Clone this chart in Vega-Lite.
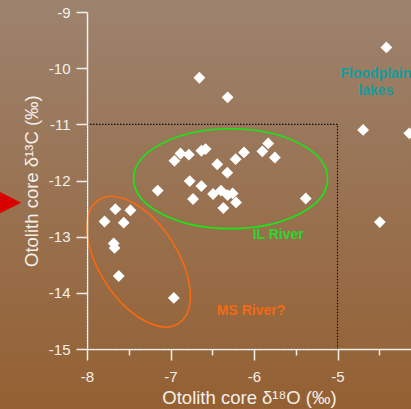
{
  "$schema": "https://vega.github.io/schema/vega-lite/v6.json",
  "width": 334,
  "height": 337,
  "autosize": "none",
  "padding": {"left": 87, "top": 12, "right": 0, "bottom": 60},
  "background": "#997050",
  "config": {"view": {"stroke": null}, "font": "Liberation Sans"},
  "data": {"values": [
    {"d18O": -6.654, "d13C": -10.17},
    {"d18O": -6.316, "d13C": -10.52},
    {"d18O": -4.414, "d13C": -9.63},
    {"d18O": -4.693, "d13C": -11.10},
    {"d18O": -4.14, "d13C": -11.16},
    {"d18O": -4.493, "d13C": -12.74},
    {"d18O": -6.953, "d13C": -11.65},
    {"d18O": -6.88, "d13C": -11.52},
    {"d18O": -6.78, "d13C": -11.54},
    {"d18O": -6.63, "d13C": -11.47},
    {"d18O": -6.58, "d13C": -11.44},
    {"d18O": -6.44, "d13C": -11.71},
    {"d18O": -6.32, "d13C": -11.86},
    {"d18O": -6.22, "d13C": -11.62},
    {"d18O": -7.153, "d13C": -12.18},
    {"d18O": -6.77, "d13C": -12.01},
    {"d18O": -6.63, "d13C": -12.10},
    {"d18O": -6.73, "d13C": -12.33},
    {"d18O": -6.49, "d13C": -12.24},
    {"d18O": -6.395, "d13C": -12.18},
    {"d18O": -6.316, "d13C": -12.26},
    {"d18O": -6.256, "d13C": -12.23},
    {"d18O": -6.367, "d13C": -12.49},
    {"d18O": -6.215, "d13C": -12.39},
    {"d18O": -6.12, "d13C": -11.50},
    {"d18O": -5.90, "d13C": -11.48},
    {"d18O": -5.83, "d13C": -11.34},
    {"d18O": -5.75, "d13C": -11.59},
    {"d18O": -5.38, "d13C": -12.32},
    {"d18O": -7.66, "d13C": -12.51},
    {"d18O": -7.48, "d13C": -12.53},
    {"d18O": -7.79, "d13C": -12.73},
    {"d18O": -7.56, "d13C": -12.75},
    {"d18O": -7.68, "d13C": -13.12},
    {"d18O": -7.67, "d13C": -13.20},
    {"d18O": -7.62, "d13C": -13.70},
    {"d18O": -6.96, "d13C": -14.09}
  ]},
  "layer": [
    {
      "data": {"values": [{}]},
      "mark": {"type": "rect", "clip": false, "fill": {"gradient": "linear", "x1": 0, "y1": 0, "x2": 0, "y2": 1, "stops": [{"offset": 0, "color": "#9d836f"}, {"offset": 1, "color": "#946032"}]}},
      "encoding": {
        "x": {"datum": -9.1, "type": "quantitative"},
        "x2": {"datum": -3.8},
        "y": {"datum": -8.7, "type": "quantitative"},
        "y2": {"datum": -16.1}
      }
    },
    {
      "data": {"values": [{}]},
      "mark": {"type": "rect", "fillOpacity": 0, "stroke": "#111111", "strokeWidth": 1.2, "strokeDash": [1.5, 1.5]},
      "encoding": {
        "x": {"datum": -8, "type": "quantitative"},
        "x2": {"datum": -5},
        "y": {"datum": -11, "type": "quantitative"},
        "y2": {"datum": -15}
      }
    },
    {
      "data": {"values": [{}]},
      "mark": {"type": "point", "filled": false, "stroke": "#14ea14", "strokeWidth": 1.6, "opacity": 1, "size": 37636,
        "shape": "M-1,0C-1,-0.2844 -0.5523,-0.515 0,-0.515C0.5523,-0.515 1,-0.2844 1,0C1,0.2844 0.5523,0.515 0,0.515C-0.5523,0.515 -1,0.2844 -1,0Z"},
      "encoding": {
        "x": {"datum": -6.28, "type": "quantitative"},
        "y": {"datum": -11.968, "type": "quantitative"}
      }
    },
    {
      "data": {"values": [{}]},
      "mark": {"type": "point", "filled": false, "stroke": "#f76a10", "strokeWidth": 1.6, "opacity": 1, "size": 21609, "angle": 57,
        "shape": "M-1,0C-1,-0.2938 -0.5523,-0.532 0,-0.532C0.5523,-0.532 1,-0.2938 1,0C1,0.2938 0.5523,0.532 0,0.532C-0.5523,0.532 -1,0.2938 -1,0Z"},
      "encoding": {
        "x": {"datum": -7.382, "type": "quantitative"},
        "y": {"datum": -13.445, "type": "quantitative"}
      }
    },
    {
      "mark": {"type": "point", "shape": "diamond", "filled": true, "color": "#ffffff", "opacity": 1, "size": 140, "strokeWidth": 0},
      "encoding": {
        "x": {"field": "d18O", "type": "quantitative",
          "scale": {"domain": [-8, -4], "nice": false, "zero": false},
          "axis": {
            "title": "Otolith core δ¹⁸O (‰)",
            "values": [-8, -7.5, -7, -6.5, -6, -5.5, -5, -4.5, -4],
            "grid": false,
            "zindex": 1,
            "domainColor": "#f4efe9", "domainWidth": 1.5,
            "tickColor": "#f4efe9", "tickWidth": 1.5,
            "tickSize": {"condition": {"test": "datum.value % 1 === 0", "value": 11}, "value": 6},
            "labelExpr": "datum.value % 1 === 0 && datum.value < -4.5 ? '' + datum.value : ''",
            "labelColor": "#f4efe9", "labelFontSize": 15, "labelFont": "Liberation Sans",
            "labelPadding": 9, "labelFlush": false, "labelOverlap": false,
            "titleFont": "Liberation Sans", "titleFontSize": 18.5, "titleFontWeight": "normal", "titleColor": "#f4efe9",
            "titleX": 162, "titleY": 54, "titleBaseline": "alphabetic", "titleAlign": "center"
          }
        },
        "y": {"field": "d13C", "type": "quantitative",
          "scale": {"domain": [-15, -9], "nice": false, "zero": false},
          "axis": {
            "title": "Otolith core δ¹³C (‰)",
            "values": [-15, -14.5, -14, -13.5, -13, -12.5, -12, -11.5, -11, -10.5, -10, -9.5, -9],
            "grid": false,
            "zindex": 1,
            "domainColor": "#f4efe9", "domainWidth": 1.5,
            "tickColor": "#f4efe9", "tickWidth": 1.5,
            "tickSize": {"condition": {"test": "datum.value % 1 === 0", "value": 11}, "value": 6},
            "labelExpr": "datum.value % 1 === 0 ? '' + datum.value : ''",
            "labelColor": "#f4efe9", "labelFontSize": 15, "labelFont": "Liberation Sans",
            "labelPadding": 6, "labelFlush": false, "labelOverlap": false,
            "titleFont": "Liberation Sans", "titleFontSize": 18.5, "titleFontWeight": "normal", "titleColor": "#f4efe9",
            "titleX": -49.5, "titleY": 168.6, "titleAngle": -90, "titleBaseline": "alphabetic", "titleAlign": "center"
          }
        }
      }
    },
    {
      "data": {"values": [{}]},
      "mark": {"type": "text", "text": "IL River", "font": "Liberation Sans", "fontWeight": "bold", "fontSize": 14, "color": "#2ad82a", "align": "center", "baseline": "middle"},
      "encoding": {
        "x": {"datum": -5.71, "type": "quantitative"},
        "y": {"datum": -12.97, "type": "quantitative"}
      }
    },
    {
      "data": {"values": [{}]},
      "mark": {"type": "text", "text": "MS River?", "font": "Liberation Sans", "fontWeight": "bold", "fontSize": 14, "color": "#f26a14", "align": "center", "baseline": "middle"},
      "encoding": {
        "x": {"datum": -6.036, "type": "quantitative"},
        "y": {"datum": -14.33, "type": "quantitative"}
      }
    },
    {
      "data": {"values": [{}]},
      "mark": {"type": "text", "text": ["Floodplain", "lakes"], "lineHeight": 17, "font": "Liberation Sans", "fontWeight": "bold", "fontSize": 14, "color": "#169c9c", "align": "center", "baseline": "middle", "clip": false},
      "encoding": {
        "x": {"datum": -4.54, "type": "quantitative"},
        "y": {"datum": -10.11, "type": "quantitative"}
      }
    },
    {
      "data": {"values": [{}]},
      "mark": {"type": "point", "shape": "M-1,-1L1,0L-1,1Z", "filled": true, "color": "#d80000", "opacity": 1, "size": 729, "strokeWidth": 0, "clip": false},
      "encoding": {
        "x": {"datum": -8.95, "type": "quantitative"},
        "y": {"datum": -12.395, "type": "quantitative"}
      }
    }
  ]
}
